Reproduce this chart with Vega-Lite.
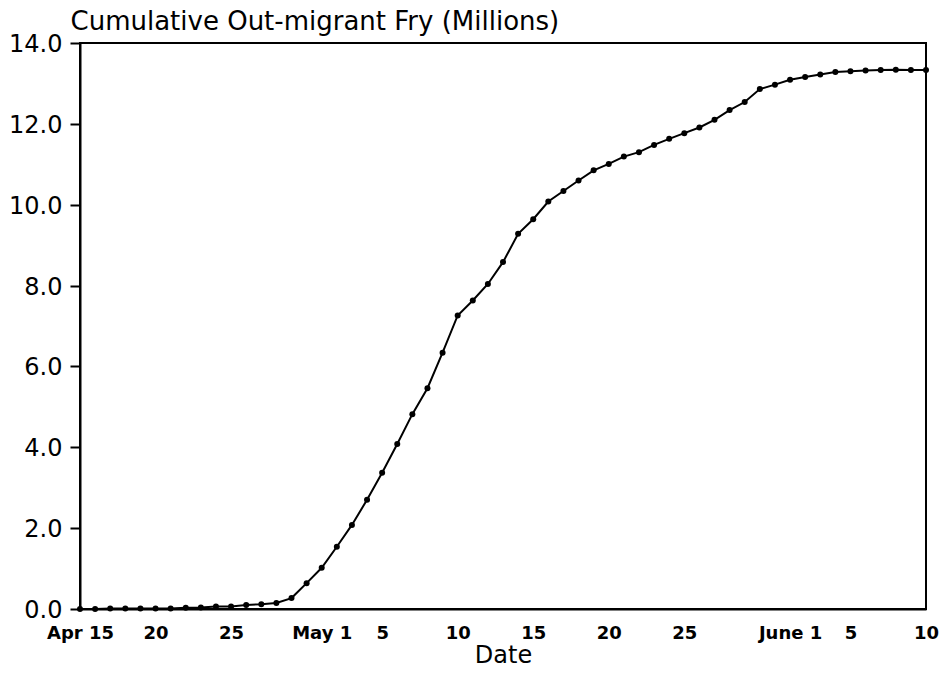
{
  "$schema": "https://vega.github.io/schema/vega-lite/v6.json",
  "width": 846,
  "height": 566,
  "autosize": "none",
  "padding": {"left": 80, "top": 43, "right": 13, "bottom": 66},
  "background": "white",
  "config": {
    "view": {"stroke": "black", "strokeWidth": 2},
    "axis": {"grid": false, "domainColor": "black", "domainWidth": 2, "tickColor": "black", "labelColor": "black", "titleColor": "black"}
  },
  "data": {
    "values": [
      {"date": "1990-04-15T00:00:00", "fry": 0.0},
      {"date": "1990-04-16T00:00:00", "fry": 0.0},
      {"date": "1990-04-17T00:00:00", "fry": 0.01},
      {"date": "1990-04-18T00:00:00", "fry": 0.01},
      {"date": "1990-04-19T00:00:00", "fry": 0.01},
      {"date": "1990-04-20T00:00:00", "fry": 0.01},
      {"date": "1990-04-21T00:00:00", "fry": 0.01},
      {"date": "1990-04-22T00:00:00", "fry": 0.03},
      {"date": "1990-04-23T00:00:00", "fry": 0.04},
      {"date": "1990-04-24T00:00:00", "fry": 0.06},
      {"date": "1990-04-25T00:00:00", "fry": 0.06},
      {"date": "1990-04-26T00:00:00", "fry": 0.10},
      {"date": "1990-04-27T00:00:00", "fry": 0.12},
      {"date": "1990-04-28T00:00:00", "fry": 0.15},
      {"date": "1990-04-29T00:00:00", "fry": 0.27},
      {"date": "1990-04-30T00:00:00", "fry": 0.64},
      {"date": "1990-05-01T00:00:00", "fry": 1.02},
      {"date": "1990-05-02T00:00:00", "fry": 1.54},
      {"date": "1990-05-03T00:00:00", "fry": 2.08},
      {"date": "1990-05-04T00:00:00", "fry": 2.70},
      {"date": "1990-05-05T00:00:00", "fry": 3.37},
      {"date": "1990-05-06T00:00:00", "fry": 4.08},
      {"date": "1990-05-07T00:00:00", "fry": 4.82},
      {"date": "1990-05-08T00:00:00", "fry": 5.46},
      {"date": "1990-05-09T00:00:00", "fry": 6.34},
      {"date": "1990-05-10T00:00:00", "fry": 7.26},
      {"date": "1990-05-11T00:00:00", "fry": 7.63},
      {"date": "1990-05-12T00:00:00", "fry": 8.04},
      {"date": "1990-05-13T00:00:00", "fry": 8.58},
      {"date": "1990-05-14T00:00:00", "fry": 9.28},
      {"date": "1990-05-15T00:00:00", "fry": 9.64},
      {"date": "1990-05-16T00:00:00", "fry": 10.08},
      {"date": "1990-05-17T00:00:00", "fry": 10.34},
      {"date": "1990-05-18T00:00:00", "fry": 10.60},
      {"date": "1990-05-19T00:00:00", "fry": 10.85},
      {"date": "1990-05-20T00:00:00", "fry": 11.01},
      {"date": "1990-05-21T00:00:00", "fry": 11.19},
      {"date": "1990-05-22T00:00:00", "fry": 11.30},
      {"date": "1990-05-23T00:00:00", "fry": 11.48},
      {"date": "1990-05-24T00:00:00", "fry": 11.63},
      {"date": "1990-05-25T00:00:00", "fry": 11.77},
      {"date": "1990-05-26T00:00:00", "fry": 11.91},
      {"date": "1990-05-27T00:00:00", "fry": 12.10},
      {"date": "1990-05-28T00:00:00", "fry": 12.34},
      {"date": "1990-05-29T00:00:00", "fry": 12.54},
      {"date": "1990-05-30T00:00:00", "fry": 12.86},
      {"date": "1990-05-31T00:00:00", "fry": 12.97},
      {"date": "1990-06-01T00:00:00", "fry": 13.09},
      {"date": "1990-06-02T00:00:00", "fry": 13.16},
      {"date": "1990-06-03T00:00:00", "fry": 13.22},
      {"date": "1990-06-04T00:00:00", "fry": 13.28},
      {"date": "1990-06-05T00:00:00", "fry": 13.30},
      {"date": "1990-06-06T00:00:00", "fry": 13.32},
      {"date": "1990-06-07T00:00:00", "fry": 13.33},
      {"date": "1990-06-08T00:00:00", "fry": 13.34},
      {"date": "1990-06-09T00:00:00", "fry": 13.33},
      {"date": "1990-06-10T00:00:00", "fry": 13.33}
    ]
  },
  "encoding": {
    "x": {
      "field": "date",
      "type": "temporal",
      "scale": {
        "domain": [
          {"year": 1990, "month": 4, "date": 15},
          {"year": 1990, "month": 6, "date": 10}
        ],
        "nice": false
      },
      "axis": {
        "title": "Date",
        "titleFont": "DejaVu Sans",
        "titleFontSize": 24,
        "titleFontWeight": "normal",
        "titleBaseline": "middle",
        "titleY": 46,
        "values": [
          {"year": 1990, "month": 4, "date": 15},
          {"year": 1990, "month": 4, "date": 20},
          {"year": 1990, "month": 4, "date": 25},
          {"year": 1990, "month": 5, "date": 1},
          {"year": 1990, "month": 5, "date": 5},
          {"year": 1990, "month": 5, "date": 10},
          {"year": 1990, "month": 5, "date": 15},
          {"year": 1990, "month": 5, "date": 20},
          {"year": 1990, "month": 5, "date": 25},
          {"year": 1990, "month": 6, "date": 1},
          {"year": 1990, "month": 6, "date": 5},
          {"year": 1990, "month": 6, "date": 10}
        ],
        "labelExpr": "(month(datum.value) == 3 && date(datum.value) == 15) ? 'Apr 15' : (date(datum.value) == 1 ? (month(datum.value) == 4 ? 'May 1' : 'June 1') : '' + date(datum.value))",
        "labelFont": "DejaVu Sans",
        "labelFontSize": 18,
        "labelFontWeight": "bold",
        "labelAngle": 0,
        "labelAlign": "center",
        "labelOverlap": false,
        "labelFlush": false,
        "labelPadding": 15,
        "ticks": false,
        "tickSize": 0
      }
    },
    "y": {
      "field": "fry",
      "type": "quantitative",
      "scale": {"domain": [0, 14], "nice": false},
      "axis": {
        "title": "Cumulative Out-migrant Fry (Millions)",
        "titleAngle": 0,
        "titleAlign": "left",
        "titleBaseline": "alphabetic",
        "titleX": -10,
        "titleY": -13.5,
        "titleFont": "DejaVu Sans",
        "titleFontSize": 26,
        "titleFontWeight": "normal",
        "values": [0, 2, 4, 6, 8, 10, 12, 14],
        "format": ".1f",
        "labelFont": "DejaVu Sans",
        "labelFontSize": 24,
        "labelPadding": 8,
        "labelOffset": 1.5,
        "tickSize": 10,
        "tickWidth": 2,
        "labelFlush": false,
        "labelOverlap": false
      }
    }
  },
  "layer": [
    {"mark": {"type": "line", "color": "black", "strokeWidth": 2}},
    {"mark": {"type": "point", "shape": "circle", "filled": true, "color": "black", "size": 36, "opacity": 1}}
  ]
}
